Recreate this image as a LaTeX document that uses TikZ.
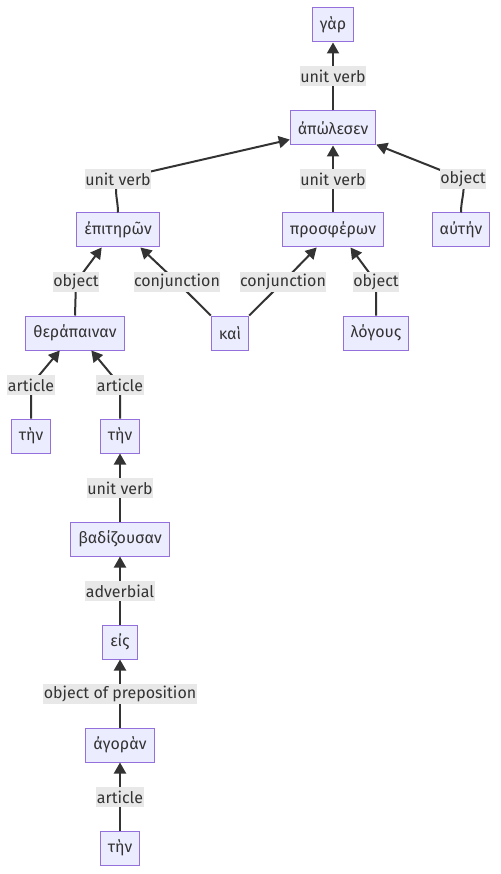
\documentclass[tikz,border=0pt]{standalone}
\usepackage{fontspec}
\setmainfont{Fira Sans}
\definecolor{mmfill}{HTML}{ECECFF}
\definecolor{mmborder}{HTML}{9370DB}
\definecolor{mmline}{HTML}{333333}
\definecolor{mmlabel}{HTML}{E8E8E8}
\usetikzlibrary{arrows.meta}

\begin{document}
\begin{tikzpicture}[x=1pt, y=1pt,
  wd/.style={draw=mmborder, fill=mmfill, line width=1pt, minimum height=34pt,
             inner xsep=7.5pt, font=\fontsize{16}{18}\selectfont, text=mmline},
  rel/.style={fill=mmlabel, inner xsep=0.5pt, inner ysep=0pt, minimum height=20pt,
              font=\fontsize{16}{18}\selectfont, text=mmline},
  lnk/.style={draw=mmline, line width=2pt, -{Triangle[length=11pt, width=12pt]}}
]
  \useasboundingbox (0,0) rectangle (500,-874);

  % Words
  \node[wd] (gar) at (333,-25) {γὰρ};
  \node[wd] (apo) at (333,-128) {ἀπώλεσεν};
  \node[wd] (epi) at (118,-230) {ἐπιτηρῶν};
  \node[wd] (pro) at (333,-230) {προσφέρων};
  \node[wd] (aut) at (461,-230) {αὐτήν};
  \node[wd] (the) at (75,-333) {θεράπαιναν};
  \node[wd] (kai) at (230,-333) {καὶ};
  \node[wd] (log) at (376,-333) {λόγους};
  \node[wd] (tenA) at (31,-436) {τὴν};
  \node[wd] (tenB) at (120,-436) {τὴν};
  \node[wd] (bad) at (120,-539) {βαδίζουσαν};
  \node[wd] (eis) at (120,-642) {εἰς};
  \node[wd] (ago) at (120,-745) {ἀγορὰν};
  \node[wd] (tenC) at (120,-848) {τὴν};

  % Label spots
  \coordinate (c1) at (333,-76);
  \coordinate (c2) at (118,-179);
  \coordinate (c3) at (333,-179);
  \coordinate (c4) at (463,-179);
  \coordinate (c5) at (76,-282);
  \coordinate (c6) at (177,-282);
  \coordinate (c7) at (283,-282);
  \coordinate (c8) at (376,-282);
  \coordinate (c9) at (31,-385);
  \coordinate (c10) at (120,-385);
  \coordinate (c11) at (120,-488);
  \coordinate (c12) at (120,-591);
  \coordinate (c13) at (120,-694);
  \coordinate (c14) at (120,-797);

  % Arrows
  \draw[lnk] (apo) -- (gar);
  \draw[lnk] (epi.north) to[out=90, in=-110] (c2) -- (apo.195);
  \draw[lnk] (pro) -- (apo);
  \draw[lnk] (aut.north) to[out=90, in=-80] (c4) -- (apo.-21);
  \draw[lnk] (the.north) -- (c5) -- (epi.227);
  \draw[lnk] (kai.north west) -- (c6) -- (epi.-38);
  \draw[lnk] (kai.north east) -- (c7) -- (pro.227);
  \draw[lnk] (log.north) -- (c8) -- (pro.-45);
  \draw[lnk] (tenA.north) -- (c9) -- (the.229);
  \draw[lnk] (tenB.north) -- (c10) -- (the.-47);
  \draw[lnk] (bad) -- (tenB);
  \draw[lnk] (eis) -- (bad);
  \draw[lnk] (ago) -- (eis);
  \draw[lnk] (tenC) -- (ago);

  % Labels
  \node[rel] (r1) at (c1) {unit verb};
  \node[rel] (r2) at (c2) {unit verb};
  \node[rel] (r3) at (c3) {unit verb};
  \node[rel] (r4) at (c4) {object};
  \node[rel] (r5) at (c5) {object};
  \node[rel] (r6) at (c6) {conjunction};
  \node[rel] (r7) at (c7) {conjunction};
  \node[rel] (r8) at (c8) {object};
  \node[rel] (r9) at (c9) {article};
  \node[rel] (r10) at (c10) {article};
  \node[rel] (r11) at (c11) {unit verb};
  \node[rel] (r12) at (c12) {adverbial};
  \node[rel] (r13) at (c13) {object of preposition};
  \node[rel] (r14) at (c14) {article};
\end{tikzpicture}
\end{document}
